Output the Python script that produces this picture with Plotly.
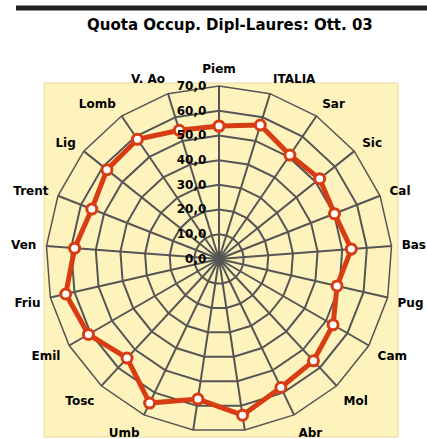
import plotly.graph_objects as go

W, H = 427, 439

categories = ["Piem", "ITALIA", "Sar", "Sic", "Cal", "Bas", "Pug", "Cam", "Mol", "Abr",
              "Laz", "Mar", "Umb", "Tosc", "Emil", "Friu", "Ven", "Trent", "Lig", "Lomb", "V. Ao"]
values = [53.8, 56.7, 50.9, 52.1, 50.2, 53.7, 49.0, 53.3, 56.2, 57.7,
          63.9, 57.3, 64.7, 54.7, 61.0, 63.6, 58.6, 55.3, 58.0, 58.6, 54.5]
radial_ticks = [0, 10, 20, 30, 40, 50, 60, 70]
title_text = "Quota Occup. Dipl-Laures: Ott. 03"

RED = "#d83c12"
GRID = "#555555"
FONT = "DejaVu Sans"

# pixel geometry
cx, cy, R = 219, 259, 173

def px_x(x):
    return x / W

def px_y(y):
    return 1 - y / H

fig = go.Figure()
fig.add_trace(go.Scatterpolar(
    r=values + values[:1],
    theta=categories + categories[:1],
    mode="lines+markers",
    line=dict(color=RED, width=5),
    marker=dict(symbol="circle", size=10, color="white", line=dict(color=RED, width=3)),
    cliponaxis=False,
    showlegend=False,
    hoverinfo="skip",
))

fig.update_layout(
    width=W, height=H,
    margin=dict(l=0, r=0, t=0, b=0),
    paper_bgcolor="white",
    separators=",.",
    polar=dict(
        domain=dict(x=[px_x(cx - R), px_x(cx + R)], y=[px_y(cy + R), px_y(cy - R)]),
        bgcolor="rgba(0,0,0,0)",
        gridshape="linear",
        radialaxis=dict(
            range=[0, 70], tickvals=radial_ticks, tickformat=".1f",
            angle=90, tickangle=90, side="counterclockwise",
            showline=False, ticks="outside", ticklen=8, tickcolor="rgba(0,0,0,0)",
            gridcolor=GRID, gridwidth=1.5,
            tickfont=dict(family=FONT, size=12, color="black", weight="bold"),
            layer="above traces",
        ),
        angularaxis=dict(
            direction="clockwise", rotation=90,
            showline=True, linecolor=GRID, linewidth=1.5,
            gridcolor=GRID, gridwidth=1.5,
            ticks="outside", ticklen=7, tickcolor="rgba(0,0,0,0)",
            tickfont=dict(family=FONT, size=12, color="black", weight="bold"),
        ),
    ),
    shapes=[
        dict(type="rect", xref="paper", yref="paper",
             x0=px_x(44), x1=px_x(398), y0=px_y(437), y1=px_y(83),
             fillcolor="#fff3bd", line=dict(color="#e8d9a0", width=1), layer="below"),
        dict(type="rect", xref="paper", yref="paper",
             x0=px_x(16), x1=px_x(427), y0=px_y(10.5), y1=px_y(5.5),
             fillcolor="#222222", line=dict(width=0), layer="above"),
    ],
    annotations=[
        dict(text="<b>" + title_text + "</b>", xref="paper", yref="paper",
             x=px_x(230), y=px_y(25), xanchor="center", yanchor="middle", showarrow=False,
             font=dict(family=FONT, size=15, color="black")),
    ],
)

fig.write_html("out.html", config={"displayModeBar": False},
               post_script="document.body.style.margin='0px';")
